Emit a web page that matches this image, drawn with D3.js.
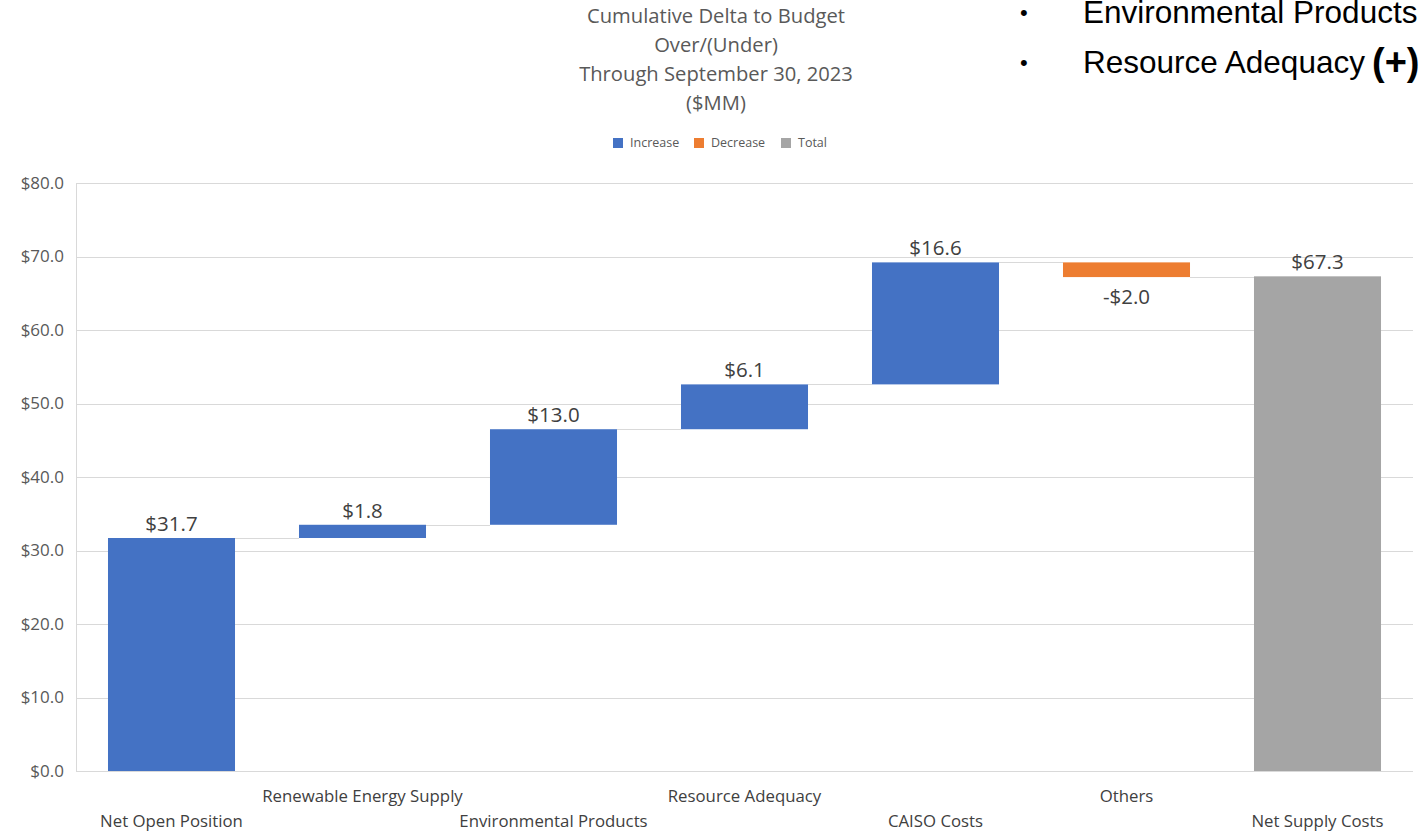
<!DOCTYPE html>
<html><head><meta charset="utf-8">
<script src="https://cdn.jsdelivr.net/npm/d3@7"></script>
<style>body{margin:0;background:#fff;}svg{display:block;}</style>
</head><body>
<svg id="c" width="1420" height="832"></svg>
<script>
const categories = ["Net Open Position","Renewable Energy Supply","Environmental Products","Resource Adequacy","CAISO Costs","Others","Net Supply Costs"];
const deltas = [31.7, 1.8, 13.0, 6.1, 16.6, -2.0, 67.3];
const kinds = ["inc","inc","inc","inc","inc","dec","total"];
const yTicks = [0,10,20,30,40,50,60,70,80];
const titleLines = ["Cumulative Delta to Budget","Over/(Under)","Through September 30, 2023","($MM)"];
const legendItems = [["Increase","inc"],["Decrease","dec"],["Total","total"]];
const bullets = ["Environmental Products","Resource Adequacy"];

(function(){
const colors = {inc:"#4472C4", dec:"#ED7D31", total:"#A5A5A5"};
const svg = d3.select("#c");
const font = "'Open Sans', sans-serif";

let run = 0;
const bars = categories.map((c,i)=>{
  let start, end;
  if (kinds[i]==="total"){ start=0; end=deltas[i]; }
  else { start=run; end=run+deltas[i]; run=end; }
  return {c, v:deltas[i], kind:kinds[i], start, end, i};
});

const pl=76, pr=1413, pt=183, pb=771;
const x = d3.scaleBand().domain(categories).range([pl,pr]).paddingInner(0.335).paddingOuter(0.1675);
const y = d3.scaleLinear().domain([0,80]).range([pb,pt]);

svg.append("g").selectAll("line").data(yTicks).join("line")
  .attr("x1",pl).attr("x2",pr).attr("y1",d=>Math.round(y(d))+0.5).attr("y2",d=>Math.round(y(d))+0.5)
  .attr("stroke","#d9d9d9").attr("stroke-width",1);
svg.append("line").attr("x1",pl+0.5).attr("x2",pl+0.5).attr("y1",pt).attr("y2",pb).attr("stroke","#d9d9d9");

svg.append("g").selectAll("text").data(yTicks).join("text")
  .attr("x",64).attr("y",d=>y(d)).attr("dy","0.35em").attr("text-anchor","end")
  .attr("font-family",font).attr("font-size",17).attr("fill","#595959")
  .text(d=>"$"+d.toFixed(1));

svg.append("g").selectAll("line").data(bars.slice(0,-1)).join("line")
  .attr("x1",d=>x(d.c)+x.bandwidth()).attr("x2",d=>x(categories[d.i+1]))
  .attr("y1",d=>Math.round(y(d.end))+0.5).attr("y2",d=>Math.round(y(d.end))+0.5)
  .attr("stroke","#d9d9d9").attr("stroke-width",1);

svg.append("g").selectAll("rect").data(bars).join("rect")
  .attr("x",d=>x(d.c)).attr("width",x.bandwidth())
  .attr("y",d=>y(Math.max(d.start,d.end))).attr("height",d=>Math.abs(y(d.start)-y(d.end)))
  .attr("fill",d=>colors[d.kind]);

svg.append("g").selectAll("text").data(bars).join("text")
  .attr("x",d=>x(d.c)+x.bandwidth()/2)
  .attr("y",d=> d.v>=0 ? y(Math.max(d.start,d.end))-7 : y(Math.min(d.start,d.end))+27)
  .attr("text-anchor","middle").attr("font-family",font).attr("font-size",20.5).attr("fill","#404040")
  .text(d=> (d.v<0?"-$":"$")+Math.abs(d.v).toFixed(1));

svg.append("g").selectAll("text").data(bars).join("text")
  .attr("x",d=>x(d.c)+x.bandwidth()/2)
  .attr("y",d=> d.i%2===1 ? 802 : 827)
  .attr("text-anchor","middle").attr("font-family",font).attr("font-size",16.8).attr("fill","#404040")
  .text(d=>d.c);

svg.append("g").selectAll("text").data(titleLines).join("text")
  .attr("x",716).attr("y",(d,i)=>23+i*29).attr("text-anchor","middle")
  .attr("font-family",font).attr("font-size",20.2).attr("fill","#595959").text(d=>d);

const lx = [613,694,781];
const lg = svg.append("g").selectAll("g").data(legendItems).join("g")
  .attr("transform",(d,i)=>`translate(${lx[i]},143)`);
lg.append("rect").attr("x",0).attr("y",-5).attr("width",10).attr("height",10).attr("fill",d=>colors[d[1]]);
lg.append("text").attr("x",17).attr("y",0).attr("dy","0.35em").attr("font-family",font).attr("font-size",12.5)
  .attr("fill","#595959").text(d=>d[0]);

const bg = svg.append("g").selectAll("g").data(bullets).join("g")
  .attr("transform",(d,i)=>`translate(0,${23+i*50})`);
bg.append("text").attr("x",1020).attr("y",-3).attr("font-family","'Liberation Sans', Arial, sans-serif")
  .attr("font-size",22).attr("fill","#000").text("•");
bg.append("text").attr("x",1083).attr("y",0).attr("font-family","'Liberation Sans', Arial, sans-serif")
  .attr("font-size",31.5).attr("fill","#000").text(d=>d);
svg.append("text").attr("x",1372).attr("y",75).attr("font-family","'Liberation Sans', Arial, sans-serif")
  .attr("font-size",38).attr("font-weight","bold").attr("fill","#000").text("(+)");
})();
</script>
</body></html>
